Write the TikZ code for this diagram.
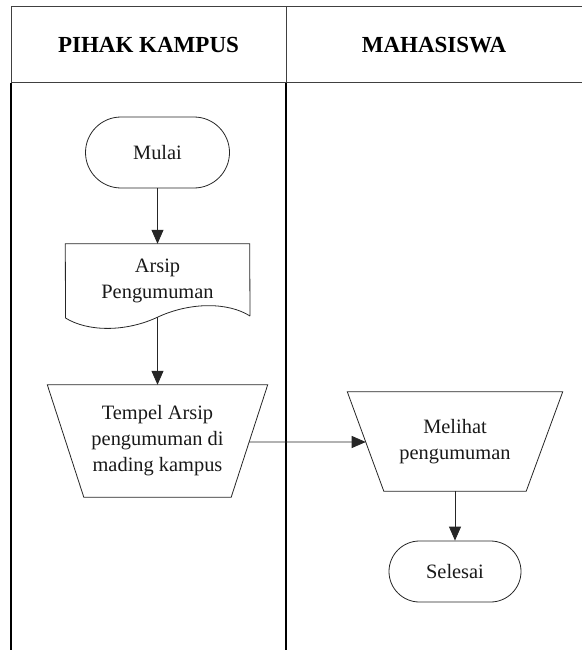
\documentclass[tikz,border=0pt]{standalone}
\usepackage{fontspec}
\setmainfont{Liberation Serif}
\usetikzlibrary{arrows.meta,shapes.misc,calc}
\begin{document}
\begin{tikzpicture}[x=1pt,y=-1pt,
  lane/.style={line width=1.6pt,black},
  hdr/.style={line width=1pt,black!75},
  box/.style={draw=black!85,line width=0.8pt},
  lbl/.style={font=\fontsize{20.4}{26}\selectfont,align=center,text=black!90},
  head/.style={font=\fontsize{23}{28}\selectfont\bfseries},
  flow/.style={draw=black!85,line width=0.8pt,-{Triangle[length=14pt,width=12pt]}},
  terminal/.style={box,rounded rectangle,lbl,inner sep=0pt},
  holder/.style={rectangle,inner sep=0pt,lbl}]
\useasboundingbox (0,0) rectangle (582,650);

% swimlane frame
\draw[hdr] (11,7) -- (582,7);
\draw[hdr] (11,83) -- (582,83);
\draw[hdr] (11,7) -- (11,83);
\draw[hdr] (286,7) -- (286,83);
\draw[lane] (11,83) -- (11,650);
\draw[lane] (286,83) -- (286,650);
\node[head] (hKampus) at (148.5,45) {PIHAK KAMPUS};
\node[head] (hMhs) at (434,45) {MAHASISWA};

% start terminal
\node[terminal,minimum width=144pt,minimum height=71pt] (mulai) at (157.5,152.5) {Mulai};

% document: Arsip Pengumuman
\node[holder,minimum width=184pt,minimum height=73pt] (arsip) at (157.5,280.5) {Arsip\\Pengumuman};
\draw[box] (250,316) -- (arsip.north east) -- (arsip.north west) -- (65.5,318)
  .. controls (88,332) and (126,332) .. (arsip.south)
  .. controls (190,302) and (228,302) .. (250,316);

% manual operation: Tempel Arsip
\node[holder,minimum width=220pt,minimum height=112pt] (tempel) at (157.5,441) {Tempel Arsip\\pengumuman di\\mading kampus};
\draw[box] (tempel.north west) -- (tempel.north east)
  -- coordinate[pos=0.509] (tempelR) ($(tempel.south east)+(-36.5,0)$)
  -- ($(tempel.south west)+(36.5,0)$) -- cycle;

% manual operation: Melihat pengumuman
\node[holder,minimum width=215pt,minimum height=99pt] (melihat) at (455,441.5) {Melihat\\pengumuman};
\draw[box] (melihat.north east) -- (melihat.north west)
  -- coordinate[pos=0.505] (melihatL) ($(melihat.south west)+(36.5,0)$)
  -- ($(melihat.south east)+(-36.5,0)$) -- cycle;

% end terminal
\node[terminal,minimum width=132pt,minimum height=61pt] (selesai) at (455,571.5) {Selesai};

% flow connectors
\draw[flow] (mulai.south) -- (arsip.north);
\draw[flow] (arsip.south) -- (tempel.north);
\draw[flow] (tempelR) -- (melihatL);
\draw[flow] (melihat.south) -- (selesai.north);
\end{tikzpicture}
\end{document}
